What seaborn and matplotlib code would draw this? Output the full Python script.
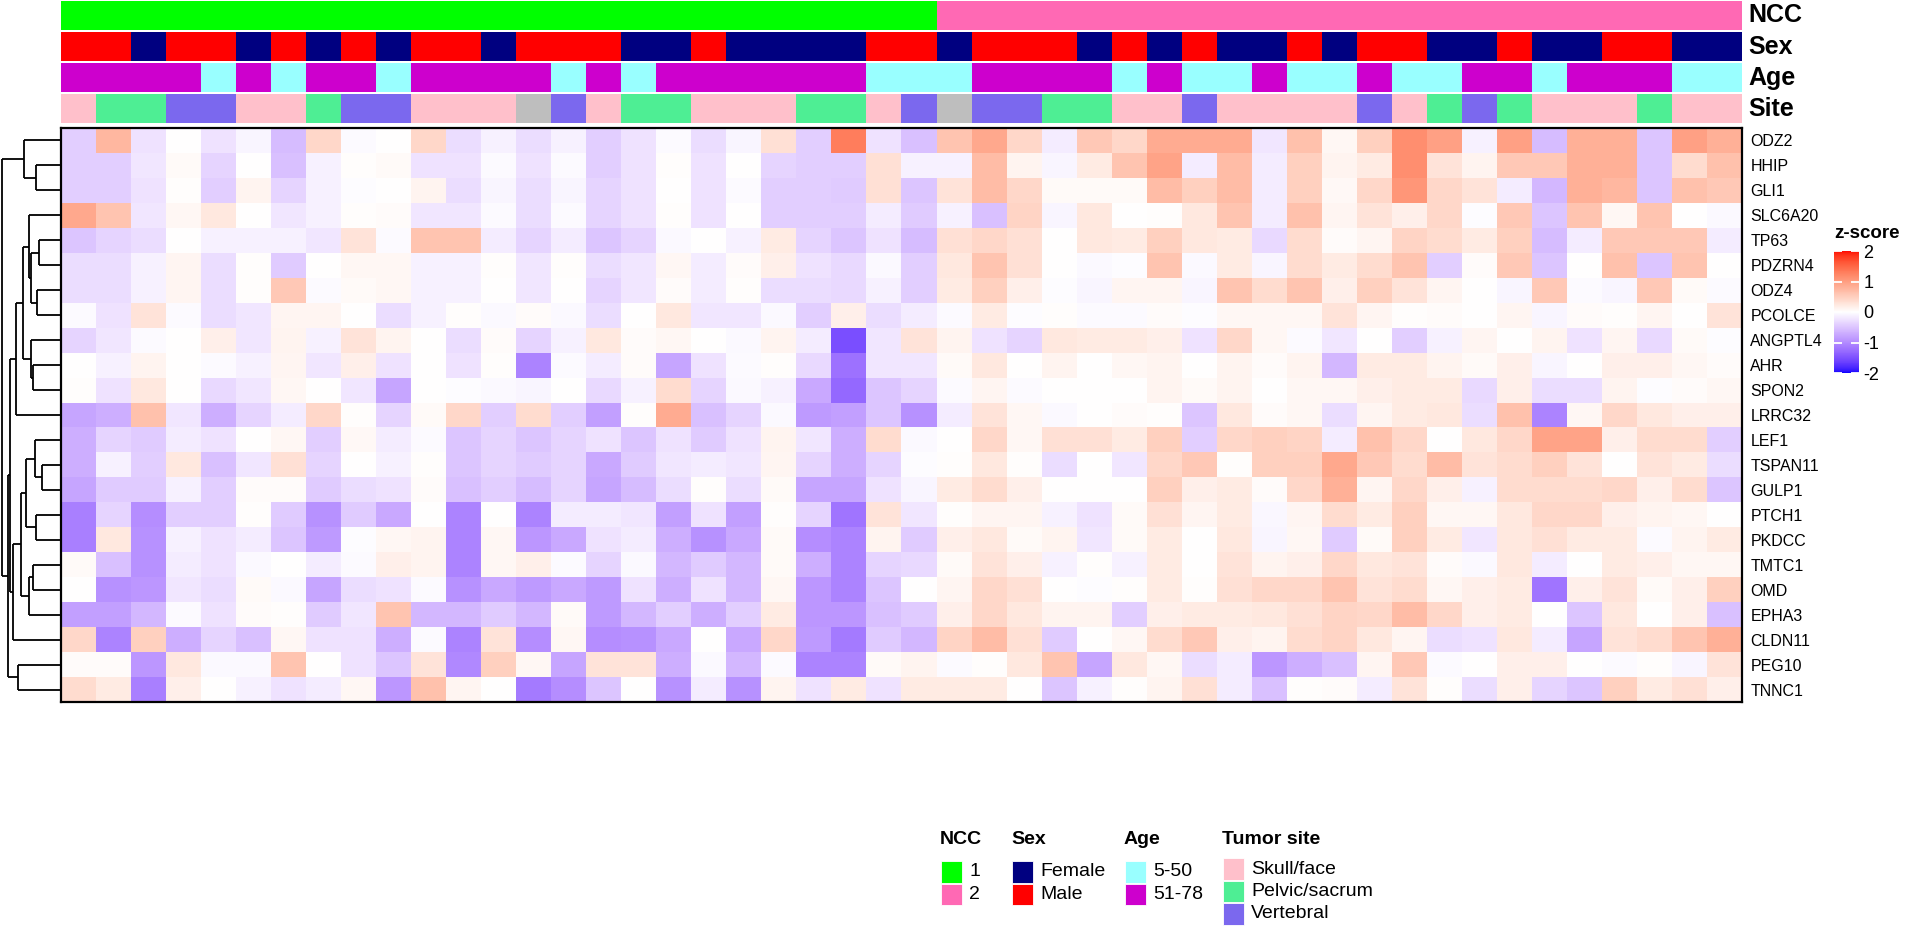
import numpy as np
import pandas as pd
import matplotlib
matplotlib.use("Agg")
import matplotlib.pyplot as plt
import seaborn as sns
from matplotlib.colors import ListedColormap
from matplotlib.patches import Rectangle

# ------------------------------------------------------------------ data
GENES = ["ODZ2", "HHIP", "GLI1", "SLC6A20", "TP63", "PDZRN4", "ODZ4", "PCOLCE",
         "ANGPTL4", "AHR", "SPON2", "LRRC32", "LEF1", "TSPAN11", "GULP1", "PTCH1",
         "PKDCC", "TMTC1", "OMD", "EPHA3", "CLDN11", "PEG10", "TNNC1"]

ODZ2 = [-0.5, 0.9, -0.3, 0, -0.3, -0.1, -0.7, 0.5, -0.05, 0, 0.5, -0.35, -0.15, -0.35, -0.15, -0.5, -0.3,
        -0.05, -0.35, -0.1, 0.4, -0.5, 1.6, -0.3, -0.65, 0.75, 1.1, 0.5, -0.2, 0.7, 0.5, 1.05, 1.05, 1.05,
        -0.25, 0.8, 0.1, 0.6, 1.4, 1.2, -0.15, 1.2, -0.7, 1.0, 1.0, -0.6, 1.2, 1.0]
HHIP = [-0.5, -0.5, -0.25, 0.07, -0.45, 0, -0.65, -0.15, 0.03, 0.07, -0.3, -0.3, -0.05, -0.3, -0.05, -0.5, -0.3,
        0.03, -0.3, 0, -0.45, -0.5, -0.5, 0.4, -0.15, -0.15, 0.85, 0.15, -0.1, 0.25, 0.75, 1.15, -0.2, 0.85,
        -0.2, 0.6, 0.15, 0.25, 1.4, 0.35, 0.15, 0.7, 0.7, 1.0, 1.0, -0.6, 0.45, 0.8]
GLI1 = [-0.5, -0.5, -0.3, 0.03, -0.5, 0.15, -0.45, -0.15, -0.03, 0, 0.15, -0.35, -0.1, -0.35, -0.1, -0.45, -0.3,
        0, -0.3, -0.05, -0.5, -0.5, -0.55, 0.4, -0.6, 0.35, 0.85, 0.5, 0.07, 0.07, 0.07, 0.85, 0.6, 0.85,
        -0.2, 0.6, 0.08, 0.5, 1.3, 0.5, 0.35, -0.2, -0.75, 1.0, 0.9, -0.6, 0.8, 0.7]
SLC6A20 = [1.1, 0.75, -0.25, 0.1, 0.3, 0, -0.25, -0.15, 0.03, 0.05, -0.25, -0.25, -0.05, -0.35, -0.05, -0.45, -0.3,
           0.03, -0.3, 0, -0.5, -0.5, -0.5, -0.2, -0.55, -0.15, -0.65, 0.55, -0.1, 0.3, 0, 0.03, 0.3, 0.75,
           -0.2, 0.8, 0.12, 0.35, 0.2, 0.5, -0.03, 0.7, -0.6, 0.75, 0.1, 0.75, 0, -0.07]
TP63 = [-0.6, -0.45, -0.35, 0, -0.15, -0.15, -0.15, -0.25, 0.35, -0.05, 0.75, 0.75, -0.2, -0.45, -0.2, -0.6, -0.45,
        -0.07, 0, -0.15, 0.25, -0.45, -0.6, -0.3, -0.7, 0.4, 0.5, 0.4, 0, 0.3, 0.25, 0.6, 0.3, 0.25,
        -0.4, 0.45, 0.05, 0.12, 0.55, 0.45, 0.25, 0.6, -0.7, -0.2, 0.7, 0.7, 0.7, -0.2]
PDZRN4 = [-0.35, -0.35, -0.15, 0.12, -0.35, 0.03, -0.55, 0, 0.1, 0.1, -0.15, -0.15, 0.03, -0.25, 0.03, -0.35, -0.25,
          0.1, -0.2, 0.05, 0.2, -0.3, -0.4, -0.07, -0.5, 0.3, 0.75, 0.4, 0, -0.07, -0.03, 0.75, -0.07, 0.25,
          -0.1, 0.45, 0.25, 0.45, 0.75, -0.5, 0.05, 0.7, -0.6, 0, 0.8, -0.6, 0.75, 0]
ODZ4 = [-0.35, -0.35, -0.15, 0.12, -0.35, 0.03, 0.7, -0.05, 0.07, 0.1, -0.15, -0.15, 0, -0.25, 0, -0.45, -0.25,
        0.05, -0.2, 0.03, -0.35, -0.35, -0.4, -0.15, -0.5, 0.25, 0.6, 0.2, -0.03, -0.1, 0.12, 0.12, -0.1, 0.75,
        0.45, 0.75, 0.2, 0.6, 0.35, 0.12, 0, -0.1, 0.7, -0.05, -0.1, 0.7, 0.07, -0.05]
PCOLCE = [-0.05, -0.3, 0.35, -0.05, -0.35, -0.25, 0.12, 0.12, 0, -0.35, -0.15, 0.02, -0.07, 0.05, -0.07, -0.35, 0,
          0.3, -0.25, -0.25, -0.07, -0.5, 0.2, -0.35, -0.2, -0.05, 0.25, -0.03, 0.03, -0.05, -0.05, 0.05, -0.03, 0.1,
          0.1, 0.1, 0.35, 0.12, 0.02, 0.05, 0, 0.12, -0.1, 0.05, 0.03, 0.12, 0, 0.35]
ANGPTL4 = [-0.45, -0.25, -0.05, 0, 0.2, -0.25, 0.15, -0.15, 0.35, 0.15, 0, -0.35, 0.05, -0.45, -0.15, 0.3, 0.05,
           0.1, 0, -0.07, 0.15, -0.2, -1.85, -0.25, 0.35, 0.15, -0.3, -0.45, 0.3, 0.25, 0.25, 0.2, -0.3, 0.5,
           0.1, -0.05, -0.25, 0, -0.5, -0.15, 0.12, 0, 0.15, -0.3, 0.12, -0.4, 0.07, -0.03]
AHR = [0, -0.15, 0.15, 0, -0.05, -0.15, 0.12, -0.25, 0.2, -0.3, 0, -0.3, 0.03, -1.3, -0.05, -0.2, 0.05,
       -0.95, -0.3, -0.05, 0.02, -0.4, -1.5, -0.25, -0.25, 0.07, 0.3, 0, 0.15, 0, 0.1, 0.15, 0, 0.15,
       0.05, 0.15, -0.75, 0.25, 0.25, 0.15, 0.07, 0.2, -0.1, 0, 0.2, 0.2, 0.1, 0.05]
SPON2 = [0.03, -0.3, 0.3, 0, -0.4, -0.25, 0.1, 0, -0.25, -0.95, 0, -0.03, -0.07, -0.1, 0, -0.4, -0.15,
         0.45, -0.45, -0.07, -0.15, -0.9, -1.6, -0.6, -0.45, -0.05, 0.12, -0.05, 0, 0, 0, 0.15, 0.07, 0.15,
         0, 0.1, 0.1, 0.2, 0.25, 0.25, -0.4, 0.2, -0.35, -0.35, 0.15, -0.03, 0.05, 0.1]
LRRC32 = [-0.95, -0.85, 0.8, -0.25, -0.85, -0.45, -0.2, 0.5, 0.03, -0.45, 0.07, 0.5, -0.5, 0.45, -0.5, -1.0, 0.03,
          1.05, -0.65, -0.45, -0.07, -1.05, -1.0, -0.6, -1.15, -0.2, 0.35, 0.1, -0.07, 0, 0.05, 0.03, -0.6, 0.3,
          0.05, 0.1, -0.35, 0.12, 0.25, 0.3, -0.35, 0.8, -1.3, 0.1, 0.5, 0.3, 0.2, 0.2]
LEF1 = [-0.85, -0.45, -0.55, -0.2, -0.3, 0, 0.1, -0.5, 0.08, -0.2, -0.05, -0.6, -0.45, -0.6, -0.45, -0.3, -0.6,
        -0.3, -0.55, -0.3, 0.15, -0.25, -0.85, 0.45, -0.07, 0, 0.5, 0.1, 0.4, 0.4, 0.25, 0.6, -0.5, 0.5,
        0.6, 0.55, -0.2, 0.8, 0.5, 0, 0.3, 0.5, 1.15, 1.15, 0.2, 0.45, 0.45, -0.5]
TSPAN11 = [-0.85, -0.15, -0.5, 0.3, -0.65, -0.25, 0.4, -0.45, 0, -0.15, 0.03, -0.6, -0.45, -0.55, -0.45, -0.9, -0.55,
           -0.25, -0.2, -0.25, 0.12, -0.45, -0.85, -0.45, -0.03, 0.03, 0.3, 0.02, -0.35, 0, -0.25, 0.5, 0.7, 0.02,
           0.6, 0.6, 1.1, 0.7, 0.45, 0.85, 0.35, 0.45, 0.6, 0.35, 0, 0.35, 0.25, -0.35]
GULP1 = [-0.95, -0.55, -0.55, -0.15, -0.5, 0.05, 0.05, -0.55, -0.35, -0.3, 0.05, -0.65, -0.5, -0.7, -0.45, -0.95, -0.7,
         -0.35, 0.03, -0.35, 0.07, -0.95, -0.95, -0.3, -0.1, 0.25, 0.45, 0.2, 0, 0, 0, 0.6, 0.2, 0.25,
         0.05, 0.5, 1.0, 0.12, 0.5, 0.2, -0.15, 0.45, 0.45, 0.45, 0.5, 0.2, 0.45, -0.6]
PTCH1 = [-1.35, -0.45, -1.2, -0.5, -0.5, 0.02, -0.55, -1.15, -0.55, -0.9, 0, -1.3, 0, -1.3, -0.2, -0.2, -0.25,
         -1.0, -0.3, -1.0, 0.02, -0.45, -1.45, 0.35, -0.25, 0.03, 0.12, 0.12, -0.15, -0.3, 0.07, 0.4, 0.12, 0.25,
         -0.08, 0.12, 0.45, 0.25, 0.6, 0.1, 0.1, 0.3, 0.5, 0.5, 0.2, 0.15, 0.1, 0]
PKDCC = [-1.35, 0.3, -1.15, -0.15, -0.3, -0.2, -0.6, -1.05, -0.03, 0.1, 0.15, -1.3, 0.1, -1.1, -0.9, -0.3, -0.2,
         -0.85, -1.15, -0.9, 0.07, -1.2, -1.3, 0.15, -0.55, 0.2, 0.3, 0.07, 0.15, -0.25, 0.07, 0.25, 0, 0.3,
         -0.1, 0.1, -0.55, 0.07, 0.6, 0.25, -0.25, 0.3, 0.4, 0.25, 0.25, -0.05, 0.15, 0.25]
TMTC1 = [0.07, -0.65, -1.15, -0.2, -0.3, -0.07, 0, -0.2, -0.05, 0.2, 0.15, -1.3, 0.1, 0.2, -0.05, -0.45, -0.07,
         -0.75, -0.55, -0.75, 0.07, -0.85, -1.3, -0.45, -0.4, 0.07, 0.35, 0.2, -0.15, 0.03, -0.15, 0.25, 0, 0.35,
         0.15, 0.2, 0.5, 0.3, 0.35, 0.05, -0.07, 0.3, -0.2, 0, 0.25, 0.2, 0.1, 0.1]
OMD = [0, -1.15, -1.1, -0.25, -0.35, 0.07, -0.07, -0.95, -0.35, -0.3, -0.05, -1.15, -0.9, -1.05, -0.9, -1.05, -0.3,
       -0.85, -0.3, -0.75, 0.1, -1.1, -1.3, -0.6, 0, 0.12, 0.5, 0.4, 0, -0.03, 0.02, 0.25, 0.03, 0.4,
       0.5, 0.5, 0.75, 0.35, 0.45, 0.1, 0.2, 0.25, -1.45, 0.2, 0.35, 0.07, 0.2, 0.6]
EPHA3 = [-1.0, -1.0, -0.75, -0.05, -0.3, 0.05, 0.03, -0.55, -0.25, 0.75, -0.75, -0.75, -0.55, -0.75, 0.07, -1.05, -0.75,
         -0.5, -0.85, -0.5, 0.25, -1.1, -1.1, -0.65, -0.55, 0.2, 0.5, 0.3, 0.15, 0.15, -0.5, 0.2, 0.25, 0.25,
         0.3, 0.4, 0.55, 0.5, 0.85, 0.5, 0.2, 0.25, 0, -0.6, 0.3, 0, 0.2, -0.65]
CLDN11 = [0.5, -1.3, 0.6, -0.85, -0.45, -0.65, 0.1, -0.3, -0.3, -0.85, -0.05, -1.3, 0.35, -1.2, 0.1, -1.2, -1.15,
          -0.9, 0, -0.9, 0.5, -1.05, -1.4, -0.55, -0.75, 0.55, 0.85, 0.4, -0.55, 0, 0.1, 0.45, 0.7, 0.2,
          0.15, 0.45, 0.55, 0.3, 0.12, -0.35, -0.3, 0.3, -0.2, -0.95, 0.35, 0.45, 0.75, 1.0]
PEG10 = [0.05, 0.05, -1.1, 0.3, -0.07, -0.07, 0.75, 0, -0.3, -0.6, 0.35, -1.25, 0.6, 0.1, -0.95, 0.35, 0.35,
         -0.85, -0.07, -0.75, -0.05, -1.3, -1.3, 0.07, 0.15, -0.05, 0.03, 0.3, 0.75, -0.95, 0.3, 0.1, -0.35, -0.2,
         -1.1, -0.85, -0.65, 0.12, 0.7, -0.05, 0, 0.2, 0.2, 0, -0.05, 0.03, -0.1, 0.35]
TNNC1 = [0.45, 0.25, -1.35, 0.2, 0, -0.15, -0.3, -0.2, 0.1, -1.1, 0.8, 0.12, 0, -1.4, -1.2, -0.6, 0,
         -1.15, -0.2, -1.15, 0.15, -0.3, 0.25, -0.3, 0.25, 0.25, 0.25, 0, -0.6, -0.15, 0.02, 0.15, 0.4, -0.2,
         -0.65, 0.02, 0.05, -0.2, 0.35, 0.03, -0.35, 0.2, -0.45, -0.6, 0.6, 0.25, 0.4, 0.2]

ROWS = [ODZ2, HHIP, GLI1, SLC6A20, TP63, PDZRN4, ODZ4, PCOLCE, ANGPTL4, AHR, SPON2, LRRC32,
        LEF1, TSPAN11, GULP1, PTCH1, PKDCC, TMTC1, OMD, EPHA3, CLDN11, PEG10, TNNC1]

# the values above were read on a perceptual scale; this converts them to z-scores
READ_TO_Z = 0.82

# column annotations (48 samples)
NCC = [1] * 25 + [2] * 23
SEX = ["M", "M", "F", "M", "M", "F", "M", "F", "M", "F", "M", "M", "F", "M", "M", "M", "F", "F", "M", "F",
       "F", "F", "F", "M", "M", "F", "M", "M", "M", "F", "M", "F", "M", "F", "F", "M", "F", "M", "M", "F",
       "F", "M", "F", "F", "M", "M", "F", "F"]
AGE = ["O", "O", "O", "O", "Y", "O", "Y", "O", "O", "Y", "O", "O", "O", "O", "Y", "O", "Y", "O", "O", "O",
       "O", "O", "O", "Y", "Y", "Y", "O", "O", "O", "O", "Y", "O", "Y", "Y", "O", "Y", "Y", "O", "Y", "Y",
       "O", "O", "Y", "O", "O", "O", "Y", "Y"]
SITE = ["S", "P", "P", "V", "V", "S", "S", "P", "V", "V", "S", "S", "S", "N", "V", "S", "P", "P", "S", "S",
        "S", "P", "P", "S", "V", "N", "V", "V", "P", "P", "S", "S", "V", "S", "S", "S", "S", "V", "S", "P",
        "V", "P", "S", "S", "S", "P", "S", "S"]

# annotation palettes (code, legend label, colour)
NCC_PAL = [(1, "1", "#00FF00"), (2, "2", "#FF69B4")]
SEX_PAL = [("F", "Female", "#000080"), ("M", "Male", "#FF0000")]
AGE_PAL = [("Y", "5-50", "#99FFFF"), ("O", "51-78", "#CD00CD")]
SITE_PAL = [("S", "Skull/face", "#FFC0CB"), ("P", "Pelvic/sacrum", "#4EEE94"),
            ("V", "Vertebral", "#7B68EE"), ("N", None, "#BEBEBE")]

# row dendrogram merges: (child_a, child_b, height); leaves 0..22, new nodes 23..
MERGES = [(1, 2, 77), (0, 23, 113), (4, 5, 67), (6, 7, 73), (25, 26, 93), (3, 27, 97),
          (9, 10, 85), (8, 29, 90), (28, 30, 117), (31, 11, 137), (13, 14, 57), (12, 33, 80),
          (15, 16, 77), (34, 35, 107), (17, 18, 85), (37, 19, 97), (36, 38, 123), (39, 20, 145),
          (21, 22, 130), (32, 40, 157), (42, 41, 163), (24, 43, 180)]

for g, r in zip(GENES, ROWS):
    if len(r) != 48:
        raise ValueError(f"{g} has {len(r)} values")

# ------------------------------------------------------------------ colour map (LAB interpolation)
_M = np.array([[0.4124, 0.3576, 0.1805], [0.2126, 0.7152, 0.0722], [0.0193, 0.1192, 0.9505]])
_WP = np.array([0.95047, 1.0, 1.08883])


def srgb_to_lab(c):
    c = np.asarray(c, float)
    lin = np.where(c <= 0.04045, c / 12.92, ((c + 0.055) / 1.055) ** 2.4)
    t = (_M @ lin) / _WP
    f = np.where(t > (6 / 29) ** 3, np.cbrt(t), t / (3 * (6 / 29) ** 2) + 4 / 29)
    return np.array([116 * f[1] - 16, 500 * (f[0] - f[1]), 200 * (f[1] - f[2])])


def lab_to_srgb(lab):
    L, a, b = lab
    fy_ = (L + 16) / 116
    f = np.array([fy_ + a / 500, fy_, fy_ - b / 200])
    t = np.where(f > 6 / 29, f ** 3, 3 * (6 / 29) ** 2 * (f - 4 / 29))
    lin = np.clip(np.linalg.inv(_M) @ (t * _WP), 0, 1)
    c = np.where(lin <= 0.0031308, 12.92 * lin, 1.055 * lin ** (1 / 2.4) - 0.055)
    return np.clip(c, 0, 1)


BLUE, WHITE, RED = srgb_to_lab([0, 0, 1]), srgb_to_lab([1, 1, 1]), srgb_to_lab([1, 0, 0])
cols = []
for v in np.linspace(-2, 2, 256):
    t = abs(v) / 2
    end = BLUE if v < 0 else RED
    cols.append(lab_to_srgb(WHITE * (1 - t) + end * t))
ZCMAP = ListedColormap(cols)

# ------------------------------------------------------------------ figure
plt.rcParams["font.family"] = ["Liberation Sans", "DejaVu Sans"]
plt.rcParams["axes.unicode_minus"] = False

W, H = 1910, 926
fig = plt.figure(figsize=(W / 100, H / 100), dpi=100)
fig.patch.set_facecolor("white")


def fx(px):
    return px / W


def fy(py):
    return 1 - py / H


HM_L, HM_R, HM_T, HM_B = 61, 1742, 128, 702

# main heatmap
df = pd.DataFrame(ROWS, index=GENES) * READ_TO_Z
ax = fig.add_axes([fx(HM_L), fy(HM_B), (HM_R - HM_L) / W, (HM_B - HM_T) / H])
cax = fig.add_axes([fx(1834), fy(373), 25 / W, 122 / H])
sns.heatmap(df, ax=ax, cmap=ZCMAP, vmin=-2, vmax=2, cbar=True, cbar_ax=cax,
            xticklabels=False, yticklabels=True)
ax.yaxis.tick_right()
ax.tick_params(axis="y", length=0, pad=6, labelsize=11.5, labelrotation=0)
ax.tick_params(axis="x", length=0)
ax.set_xlabel("")
ax.set_ylabel("")
for s in ax.spines.values():
    s.set_visible(True)
    s.set_linewidth(1.6)
    s.set_color("black")

cb = ax.collections[0].colorbar
cb.outline.set_visible(False)
cb.set_ticks([-2, -1, 0, 1, 2])
cb.set_ticklabels(["-2", "-1", "0", "1", "2"])
cax.tick_params(axis="y", direction="in", length=6, width=1.3, color="white",
                labelcolor="black", labelsize=13, pad=3, left=True, right=True,
                labelleft=False, labelright=True)
fig.text(fx(1834), fy(233), "z-score", fontsize=13.5, fontweight="bold", va="center", ha="left")

# column annotation bars
ANNOS = [("NCC", NCC, NCC_PAL, (1, 30)), ("Sex", SEX, SEX_PAL, (32, 61)),
         ("Age", AGE, AGE_PAL, (63, 92)), ("Site", SITE, SITE_PAL, (94, 123))]
for name, values, pal, (top, bot) in ANNOS:
    codes = [c for c, _, _ in pal]
    idx = np.array([[codes.index(v) for v in values]])
    aax = fig.add_axes([fx(HM_L), fy(bot), (HM_R - HM_L) / W, (bot - top) / H])
    sns.heatmap(idx, ax=aax, cmap=ListedColormap([c for _, _, c in pal]),
                vmin=-0.5, vmax=len(pal) - 0.5, cbar=False,
                xticklabels=False, yticklabels=False)
    aax.set_xlabel("")
    aax.set_ylabel("")
    fig.text(fx(1748), fy((top + bot) / 2), name, fontsize=18, fontweight="bold",
             va="center", ha="left")

# row dendrogram
dax = fig.add_axes([0, fy(HM_B), HM_L / W, (HM_B - HM_T) / H])
pos = {i: i + 0.5 for i in range(len(GENES))}
hgt = {i: 0.0 for i in range(len(GENES))}
for k, (a, b, h) in enumerate(MERGES):
    nid = len(GENES) + k
    for c in (a, b):
        dax.plot([hgt[c], h], [pos[c], pos[c]], color="black", lw=1.3, solid_capstyle="butt")
    dax.plot([h, h], [pos[a], pos[b]], color="black", lw=1.3, solid_capstyle="butt")
    pos[nid] = (pos[a] + pos[b]) / 2
    hgt[nid] = h
dax.set_xlim(186, 0)
dax.set_ylim(len(GENES), 0)
dax.axis("off")

# bottom legends
LEGENDS = [("NCC", NCC_PAL, 940), ("Sex", SEX_PAL, 1011), ("Age", AGE_PAL, 1124),
           ("Tumor site", SITE_PAL, 1222)]
for title, pal, x0 in LEGENDS:
    fig.text(fx(x0), fy(839), title, fontsize=14, fontweight="bold", va="center", ha="left")
    items = [(lab, col) for _, lab, col in pal if lab is not None]
    top0 = 858 if len(items) > 2 else 861
    for i, (lab, col) in enumerate(items):
        ytop = top0 + i * 22.5
        fig.patches.append(Rectangle((fx(x0 + 1), fy(ytop + 21.5)), 21 / W, 21.5 / H,
                                     transform=fig.transFigure, facecolor=col,
                                     edgecolor="white", lw=0.6))
        fig.text(fx(x0 + 29), fy(ytop + 11), lab, fontsize=14, va="center", ha="left")

fig.savefig("out.png", dpi=100, facecolor="white")
